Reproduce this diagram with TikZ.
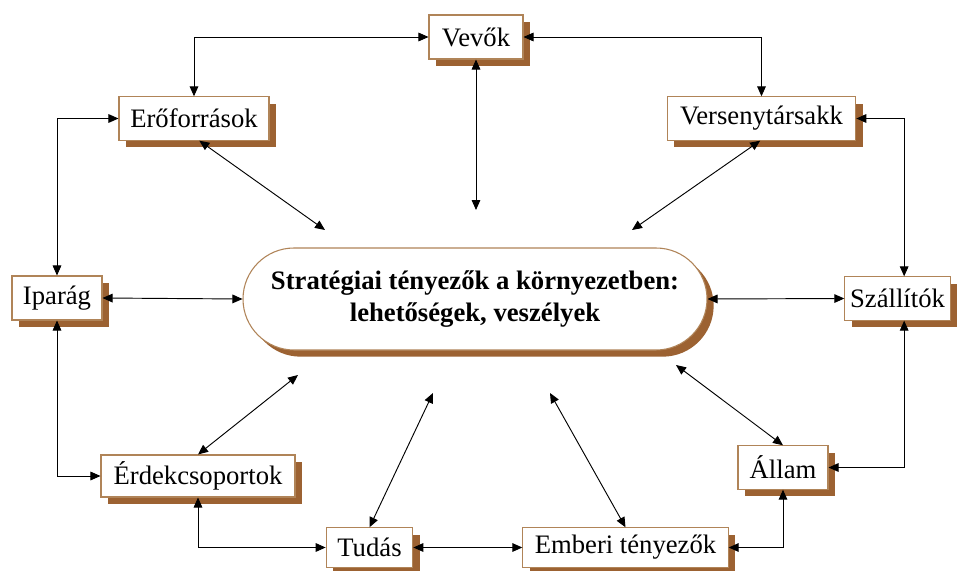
\documentclass[tikz,border=0pt]{standalone}
\usepackage{fontspec}
\setmainfont{Liberation Serif}
\usetikzlibrary{arrows.meta,shadows,shapes.misc}
\definecolor{shadowbrown}{HTML}{9C6232}
\definecolor{edgebrown}{HTML}{B08458}
\tikzset{
  factor/.style={draw=edgebrown, line width=0.8pt, fill=white, inner sep=0pt,
    font=\fontsize{20}{24}\selectfont,
    drop shadow={shadow xshift=5pt, shadow yshift=-5pt, fill=shadowbrown, opacity=1}},
  centerbox/.style={factor, rounded rectangle, font=\fontsize{20}{24}\selectfont\bfseries, align=center},
  conn/.style={draw=black, line width=0.7pt, {Triangle[length=7.5pt,width=6.5pt]}-{Triangle[length=7.5pt,width=6.5pt]}}
}
\begin{document}
\begin{tikzpicture}[x=0.75pt, y=-0.75pt]
\useasboundingbox[fill=white] (0,0) rectangle (958,571);
% nodes
\node[factor, minimum width=70.5pt, minimum height=33pt] (vevok) at (476,37) {Vevők};
\node[factor, minimum width=112.5pt, minimum height=32.5pt] (erof) at (194,118.5) {Erőforrások};
\node[factor, minimum width=141.5pt, minimum height=32.5pt] (versen) at (761.5,118.5) {Versenytársakk};
\node[factor, minimum width=67.5pt, minimum height=33pt] (ipar) at (57,298) {Iparág};
\node[factor, minimum width=79pt, minimum height=32.5pt] (szall) at (897.5,298.5) {Szállítók};
\node[centerbox, minimum width=348pt, minimum height=76.5pt] (center) at (475,299)
  {Stratégiai tényezők a környezetben:\\lehetőségek, veszélyek};
\node[factor, minimum width=145.5pt, minimum height=31.5pt] (erdek) at (198,476) {Érdekcsoportok};
\node[factor, minimum width=67.5pt, minimum height=32.5pt] (allam) at (783,467.5) {Állam};
\node[factor, minimum width=65pt, minimum height=29.5pt] (tudas) at (369.5,547.5) {Tudás};
\node[factor, minimum width=154pt, minimum height=29.5pt] (emb) at (625.5,547.5) {Emberi tényezők};
% free ends
\coordinate (cN) at (476,210);
\coordinate (cNW) at (325,230);
\coordinate (cNE) at (632,230);
\coordinate (cSW) at (298,375);
\coordinate (cS1) at (433,393);
\coordinate (cS2) at (550,393);
\coordinate (cSE) at (676,365);
% connectors
\draw[conn] (vevok.west) -| (erof.north);
\draw[conn] (vevok.east) -| (versen.north);
\draw[conn] (vevok.south) -- (cN);
\draw[conn] ([xshift=4pt]erof.south) -- (cNW);
\draw[conn] ([xshift=-1pt]versen.south) -- (cNE);
\draw[conn] (erof.west) -| (ipar.north);
\draw[conn] (versen.east) -| ([xshift=5pt]szall.north);
\draw[conn] (ipar.east) -- (center.west);
\draw[conn] (center.east) -- (szall.west);
\draw[conn] (ipar.south) |- (erdek.west);
\draw[conn] ([xshift=5pt]szall.south) |- (allam.east);
\draw[conn] (erdek.north) -- (cSW);
\draw[conn] (allam.north) -- (cSE);
\draw[conn] (tudas.north) -- (cS1);
\draw[conn] (emb.north) -- (cS2);
\draw[conn] (erdek.south) |- (tudas.west);
\draw[conn] (tudas.east) -- (emb.west);
\draw[conn] (emb.east) -| (allam.south);
\end{tikzpicture}
\end{document}
